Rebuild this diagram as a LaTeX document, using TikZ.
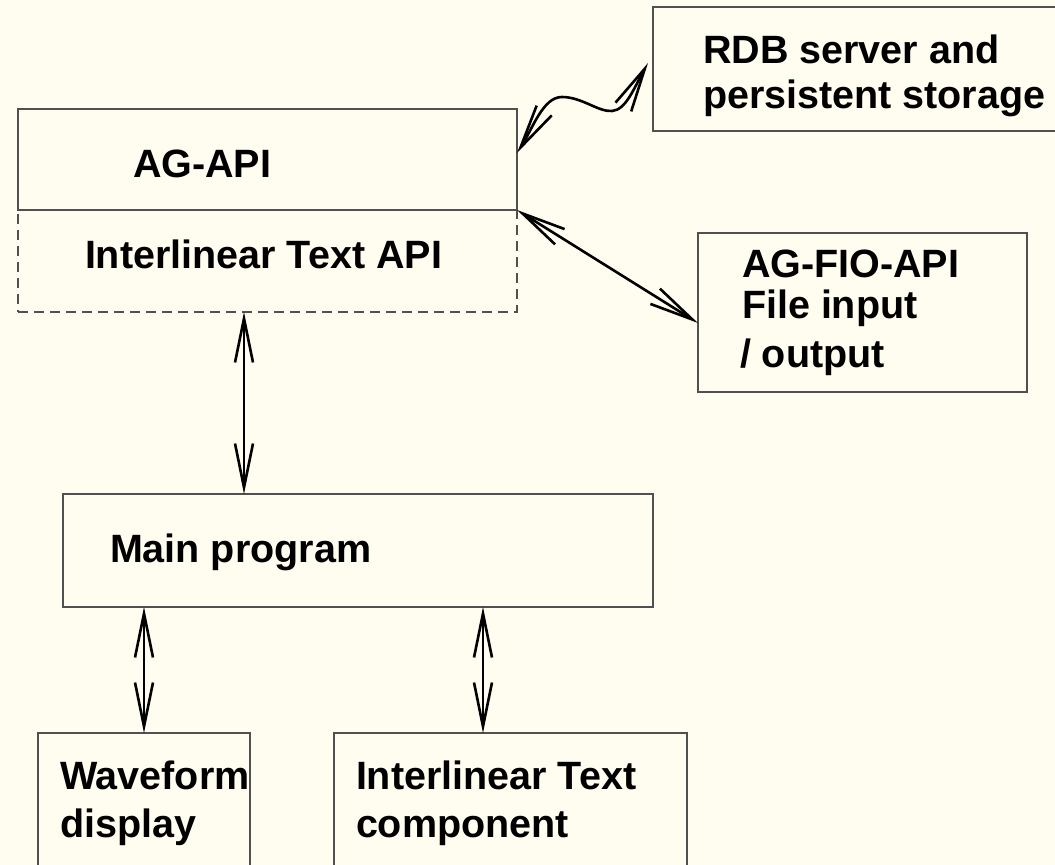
\documentclass[tikz,border=0pt]{standalone}
\usepackage{fontspec}
\setmainfont{Liberation Sans}
\usetikzlibrary{arrows.meta}
\definecolor{paper}{RGB}{255,253,240}
\definecolor{frame}{RGB}{80,80,80}
\tikzset{
  box/.style={draw=frame, line width=1.4bp, inner sep=0pt, outer sep=0pt},
  boxtext/.style={anchor=base west, inner sep=0pt, outer sep=0pt,
    font=\fontsize{39.5bp}{45bp}\selectfont\bfseries},
  link/.style={line width=2.6bp, black,
    >={Straight Barb[length=44bp,width=18bp,line width=2.6bp]}, <->},
}
\begin{document}
\begin{tikzpicture}[x=1bp,y=-1bp]
  \fill[paper] (0,0) rectangle (1055,865);
  \useasboundingbox (0,0) rectangle (1055,865);
  \clip (0,0) rectangle (1055,865);

  % boxes
  \node[box, dash pattern=on 10bp off 6bp, minimum width=499bp, minimum height=102bp, anchor=north west] (itapi) at (18,210) {};
  \node[box, minimum width=499bp, minimum height=101bp, anchor=north west] (agapi) at (18,109) {};
  \node[box, minimum width=420bp, minimum height=124bp, anchor=north west] (rdb) at (653,7) {};
  \node[box, minimum width=329bp, minimum height=159bp, anchor=north west] (fio) at (698,233) {};
  \node[box, minimum width=590bp, minimum height=113bp, anchor=north west] (main) at (63,494) {};
  \node[box, minimum width=212bp, minimum height=150bp, anchor=north west] (wave) at (38,733) {};
  \node[box, minimum width=353bp, minimum height=150bp, anchor=north west] (itc) at (334,733) {};

  % labels
  \node[boxtext] (tagapi) at (133,177) {AG-API};
  \node[boxtext] (titapi) at (85,268) {Interlinear Text API};
  \node[boxtext] (trdbA) at (703,63) {RDB server and};
  \node[boxtext] (trdbB) at (703,108) {persistent storage};
  \node[boxtext] (tfioA) at (742,277) {AG-FIO-API};
  \node[boxtext] (tfioB) at (742,318) {File input};
  \node[boxtext] (tfioC) at (740,367) {/ output};
  \node[boxtext] (tmain) at (110,562) {Main program};
  \node[boxtext] (twaveA) at (60,789) {Waveform};
  \node[boxtext] (twaveB) at (60,837) {display};
  \node[boxtext] (titcA) at (356,789) {Interlinear Text};
  \node[boxtext] (titcB) at (356,837) {component};

  % connectors
  \draw[link] ([yshift=6.5bp]agapi.east)
      .. controls (533,128) and (543,97) .. (562,97)
      .. controls (582,97) and (598,112) .. (612,111)
      .. controls (626,110) and (634,88) .. ([xshift=-5bp,yshift=6bp]rdb.west);
  \draw[link] (agapi.south east) -- ([yshift=-10.5bp]fio.west);
  \draw[link] ([xshift=-23.5bp]itapi.south) -- ([xshift=-23.5bp]itapi.south |- main.north);
  \draw[link] (wave.north |- main.south) -- (wave.north);
  \draw[link] ([xshift=-27.5bp]itc.north |- main.south) -- ([xshift=-27.5bp]itc.north);
\end{tikzpicture}
\end{document}
